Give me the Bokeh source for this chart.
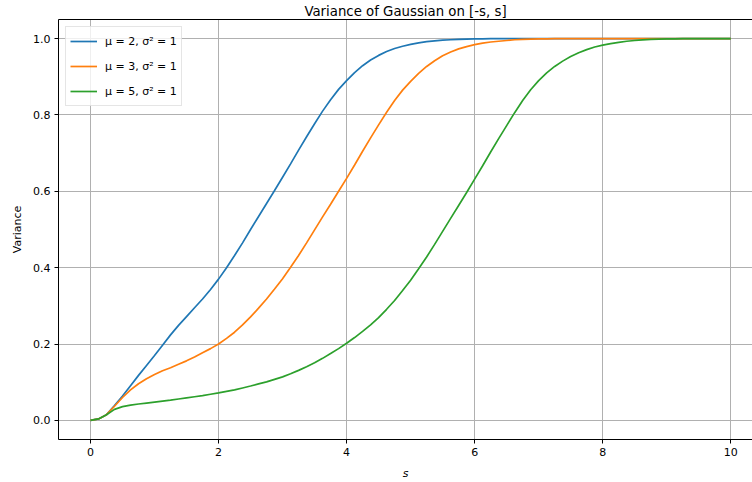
from bokeh.plotting import figure
from bokeh.models import Range1d, LinearAxis, FixedTicker, Legend, LegendItem
from bokeh.embed import file_html
from bokeh.resources import INLINE

# ---- data ----
s = [0.0, 0.125, 0.25, 0.375, 0.5, 0.625, 0.75, 0.875,
     1.0, 1.125, 1.25, 1.375, 1.5, 1.625, 1.75, 1.875,
     2.0, 2.125, 2.25, 2.375, 2.5, 2.625, 2.75, 2.875,
     3.0, 3.125, 3.25, 3.375, 3.5, 3.625, 3.75, 3.875,
     4.0, 4.125, 4.25, 4.375, 4.5, 4.625, 4.75, 4.875,
     5.0, 5.125, 5.25, 5.375, 5.5, 5.625, 5.75, 5.875,
     6.0, 6.125, 6.25, 6.375, 6.5, 6.625, 6.75, 6.875,
     7.0, 7.125, 7.25, 7.375, 7.5, 7.625, 7.75, 7.875,
     8.0, 8.125, 8.25, 8.375, 8.5, 8.625, 8.75, 8.875,
     9.0, 9.125, 9.25, 9.375, 9.5, 9.625, 9.75, 9.875,
     10.0]

var_mu2 = [0.0, 0.004, 0.015, 0.039, 0.064, 0.091, 0.118, 0.144,
           0.170, 0.197, 0.224, 0.249, 0.272, 0.295, 0.318, 0.343,
           0.370, 0.400, 0.432, 0.465, 0.500, 0.534, 0.568, 0.602,
           0.637, 0.672, 0.708, 0.743, 0.777, 0.810, 0.840, 0.867,
           0.890, 0.911, 0.929, 0.944, 0.956, 0.966, 0.974, 0.980,
           0.985, 0.989, 0.992, 0.994, 0.996, 0.997, 0.998, 0.9985,
           0.999, 0.9995, 1.0, 1.0, 1.0, 1.0, 1.0, 1.0,
           1.0, 1.0, 1.0, 1.0, 1.0, 1.0, 1.0, 1.0,
           1.0, 1.0, 1.0, 1.0, 1.0, 1.0, 1.0, 1.0,
           1.0, 1.0, 1.0, 1.0, 1.0, 1.0, 1.0, 1.0,
           1.0]

var_mu3 = [0.0, 0.004, 0.015, 0.037, 0.060, 0.080, 0.096, 0.109,
           0.120, 0.130, 0.138, 0.147, 0.156, 0.166, 0.177, 0.188,
           0.200, 0.215, 0.231, 0.250, 0.271, 0.294, 0.318, 0.344,
           0.371, 0.401, 0.432, 0.465, 0.499, 0.533, 0.566, 0.600,
           0.634, 0.669, 0.705, 0.740, 0.774, 0.807, 0.838, 0.865,
           0.888, 0.909, 0.927, 0.942, 0.955, 0.965, 0.973, 0.979,
           0.984, 0.988, 0.991, 0.993, 0.995, 0.997, 0.998, 0.9985,
           0.999, 0.9995, 1.0, 1.0, 1.0, 1.0, 1.0, 1.0,
           1.0, 1.0, 1.0, 1.0, 1.0, 1.0, 1.0, 1.0,
           1.0, 1.0, 1.0, 1.0, 1.0, 1.0, 1.0, 1.0,
           1.0]

var_mu5 = [0.0, 0.004, 0.015, 0.029, 0.036, 0.040, 0.043, 0.0455,
           0.048, 0.0505, 0.053, 0.056, 0.059, 0.062, 0.065, 0.0685,
           0.072, 0.076, 0.080, 0.085, 0.090, 0.0955, 0.101, 0.1075,
           0.114, 0.122, 0.131, 0.1405, 0.151, 0.1625, 0.175, 0.188,
           0.202, 0.217, 0.233, 0.250, 0.269, 0.291, 0.314, 0.340,
           0.367, 0.397, 0.428, 0.461, 0.495, 0.529, 0.563, 0.597,
           0.632, 0.667, 0.703, 0.738, 0.772, 0.806, 0.838, 0.866,
           0.890, 0.910, 0.927, 0.941, 0.953, 0.963, 0.971, 0.978,
           0.983, 0.987, 0.990, 0.993, 0.995, 0.9967, 0.998, 0.9985,
           0.999, 0.9995, 1.0, 1.0, 1.0, 1.0, 1.0, 1.0,
           1.0]

series_labels = ["μ = 2, σ² = 1", "μ = 3, σ² = 1", "μ = 5, σ² = 1"]
series_colors = ["#1f77b4", "#ff7f0e", "#2ca02c"]

x_ticks = [0, 2, 4, 6, 8, 10]
y_ticks = [0.0, 0.2, 0.4, 0.6, 0.8, 1.0]
y_tick_labels = ["0.0", "0.2", "0.4", "0.6", "0.8", "1.0"]

title_text = "Variance of Gaussian on [-s, s]"
x_label = "s"
y_label = "Variance"

FONT = "DejaVu Sans"

p = figure(width=752, height=482,
           x_range=Range1d(-0.5, 10.34), y_range=Range1d(-0.05, 1.05),
           output_backend="svg", toolbar_location=None,
           min_border_left=58, min_border_right=0,
           min_border_top=19, min_border_bottom=43,
           title=title_text)

p.background_fill_color = "white"
p.border_fill_color = "white"
p.outline_line_color = None

p.title.text_font = FONT
p.title.text_font_size = "13.3px"
p.title.text_font_style = "normal"
p.title.text_color = "black"
p.title.align = "center"
p.title.standoff = 2
p.title.offset = 5

# axes
for ax in (p.xaxis[0], p.yaxis[0]):
    ax.major_tick_out = 4
    ax.major_tick_in = 0
    ax.minor_tick_out = 0
    ax.minor_tick_in = 0
    ax.major_tick_line_color = "black"
    ax.axis_line_color = "black"
    ax.axis_line_width = 1
    ax.major_label_text_font = FONT
    ax.major_label_text_font_size = "11px"
    ax.major_label_text_color = "black"
    ax.major_label_standoff = 4
    ax.axis_label_text_font = FONT
    ax.axis_label_text_font_size = "11px"
    ax.axis_label_text_color = "black"

p.xaxis[0].ticker = FixedTicker(ticks=x_ticks)
p.yaxis[0].ticker = FixedTicker(ticks=y_ticks)
p.yaxis[0].major_label_overrides = {t: l for t, l in zip(y_ticks, y_tick_labels)}
p.xaxis[0].axis_label = x_label
p.xaxis[0].axis_label_text_font_style = "italic"
p.xaxis[0].axis_label_standoff = 8
p.yaxis[0].axis_label = y_label
p.yaxis[0].axis_label_text_font_style = "normal"
p.yaxis[0].axis_label_standoff = 6

# top spine
top = LinearAxis(ticker=FixedTicker(ticks=[]), major_tick_out=0, major_tick_in=0,
                 minor_tick_out=0, minor_tick_in=0,
                 major_label_standoff=0, axis_label_standoff=0,
                 major_label_text_font_size="0px",
                 axis_line_color="black", axis_line_width=1)
p.add_layout(top, "above")

# grid
p.xgrid.ticker = FixedTicker(ticks=x_ticks)
p.ygrid.ticker = FixedTicker(ticks=y_ticks)
for g in (p.xgrid[0], p.ygrid[0]):
    g.grid_line_color = "#b0b0b0"
    g.grid_line_width = 1

items = []
for vals, lab, col in zip([var_mu2, var_mu3, var_mu5], series_labels, series_colors):
    r = p.line(s, vals, line_color=col, line_width=1.7)
    items.append(LegendItem(label=lab, renderers=[r]))

legend = Legend(items=items, location="top_left", margin=7, padding=4,
                spacing=5, glyph_width=27, glyph_height=20, label_height=20,
                label_standoff=8, label_text_font=FONT, label_text_font_size="11px",
                label_text_color="black",
                border_line_color="#cccccc", border_line_width=1,
                background_fill_color="white", background_fill_alpha=0.8)
p.add_layout(legend)

open("out.html", "w").write(file_html(p, INLINE))
